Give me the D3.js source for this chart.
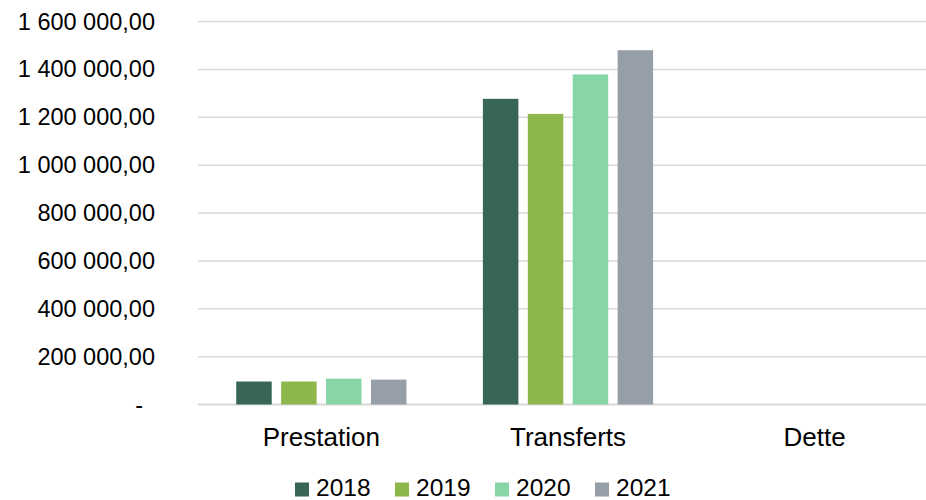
<!DOCTYPE html>
<html>
<head>
<meta charset="utf-8">
<script src="https://cdn.jsdelivr.net/npm/d3@7"></script>
<style>
  body { margin: 0; background: #fff; }
  text { font-family: "Liberation Sans", Arial, sans-serif; fill: #000; }
</style>
</head>
<body>
<svg id="chart" width="926" height="500"></svg>
<script>
// data
var categories = ["Prestation", "Transferts", "Dette"];
var years = ["2018", "2019", "2020", "2021"];
var values2018 = [96000, 1277000, 0];
var values2019 = [96000, 1214000, 0];
var values2020 = [108000, 1379000, 0];
var values2021 = [104000, 1480000, 0];
var yTicks = [0, 200000, 400000, 600000, 800000, 1000000, 1200000, 1400000, 1600000];
var colors = ["#376657", "#8db64c", "#88d5a8", "#969fa8"];

var series = [values2018, values2019, values2020, values2021];

var svg = d3.select("#chart");
var plotLeft = 198;
var plotRight = 938; // plot runs past the edge of the picture
var plotTop = 21.5;
var plotBottom = 404.5;

// format like "1 600 000,00"
function fmt(v) {
  if (v === 0) return "-";
  var s = d3.format(",.2f")(v);
  return s.replace(/,/g, " ").replace(".", ",");
}

var x0 = d3.scaleBand()
  .domain(categories)
  .range([plotLeft, plotRight])
  .paddingInner(0.31)
  .paddingOuter(0.155);

var x1 = d3.scaleBand()
  .domain(years)
  .range([0, x0.bandwidth()])
  .paddingInner(0.21)
  .paddingOuter(0);

var y = d3.scaleLinear()
  .domain([0, 1600000])
  .range([plotBottom, plotTop]);

// gridlines
svg.selectAll("line.grid")
  .data(yTicks)
  .enter()
  .append("line")
  .attr("class", "grid")
  .attr("x1", plotLeft)
  .attr("x2", plotRight)
  .attr("y1", function(d) { return y(d); })
  .attr("y2", function(d) { return y(d); })
  .attr("stroke", "#d9d9d9")
  .attr("stroke-width", function(d) { return d === 0 ? 2 : 1.5; });

// y labels
svg.selectAll("text.ylab")
  .data(yTicks)
  .enter()
  .append("text")
  .attr("class", "ylab")
  .attr("x", function(d) { return d === 0 ? 143 : 155; })
  .attr("y", function(d) { return y(d) + 8; })
  .attr("text-anchor", "end")
  .style("font-size", "23.5px")
  .text(function(d) { return fmt(d); });

// bars
var rows = [];
categories.forEach(function(c, ci) {
  years.forEach(function(yr, yi) {
    rows.push({ cat: c, year: yr, value: series[yi][ci], color: colors[yi] });
  });
});

svg.selectAll("rect.bar")
  .data(rows)
  .enter()
  .append("rect")
  .attr("class", "bar")
  .attr("x", function(d) { return x0(d.cat) + x1(d.year); })
  .attr("y", function(d) { return y(d.value); })
  .attr("width", x1.bandwidth())
  .attr("height", function(d) { return y(0) - y(d.value); })
  .attr("fill", function(d) { return d.color; });

// category labels
svg.selectAll("text.xlab")
  .data(categories)
  .enter()
  .append("text")
  .attr("class", "xlab")
  .attr("x", function(d) { return x0(d) + x0.bandwidth() / 2; })
  .attr("y", 446)
  .attr("text-anchor", "middle")
  .style("font-size", "26px")
  .text(function(d) { return d; });

// legend
var legend = svg.selectAll("g.legend")
  .data(years)
  .enter()
  .append("g")
  .attr("class", "legend")
  .attr("transform", function(d, i) { return "translate(" + (295 + i * 100) + ",0)"; });

legend.append("rect")
  .attr("x", 0)
  .attr("y", 482.5)
  .attr("width", 14)
  .attr("height", 14)
  .attr("fill", function(d, i) { return colors[i]; });

legend.append("text")
  .attr("x", 21)
  .attr("y", 496)
  .style("font-size", "24.5px")
  .text(function(d) { return d; });
</script>
</body>
</html>
